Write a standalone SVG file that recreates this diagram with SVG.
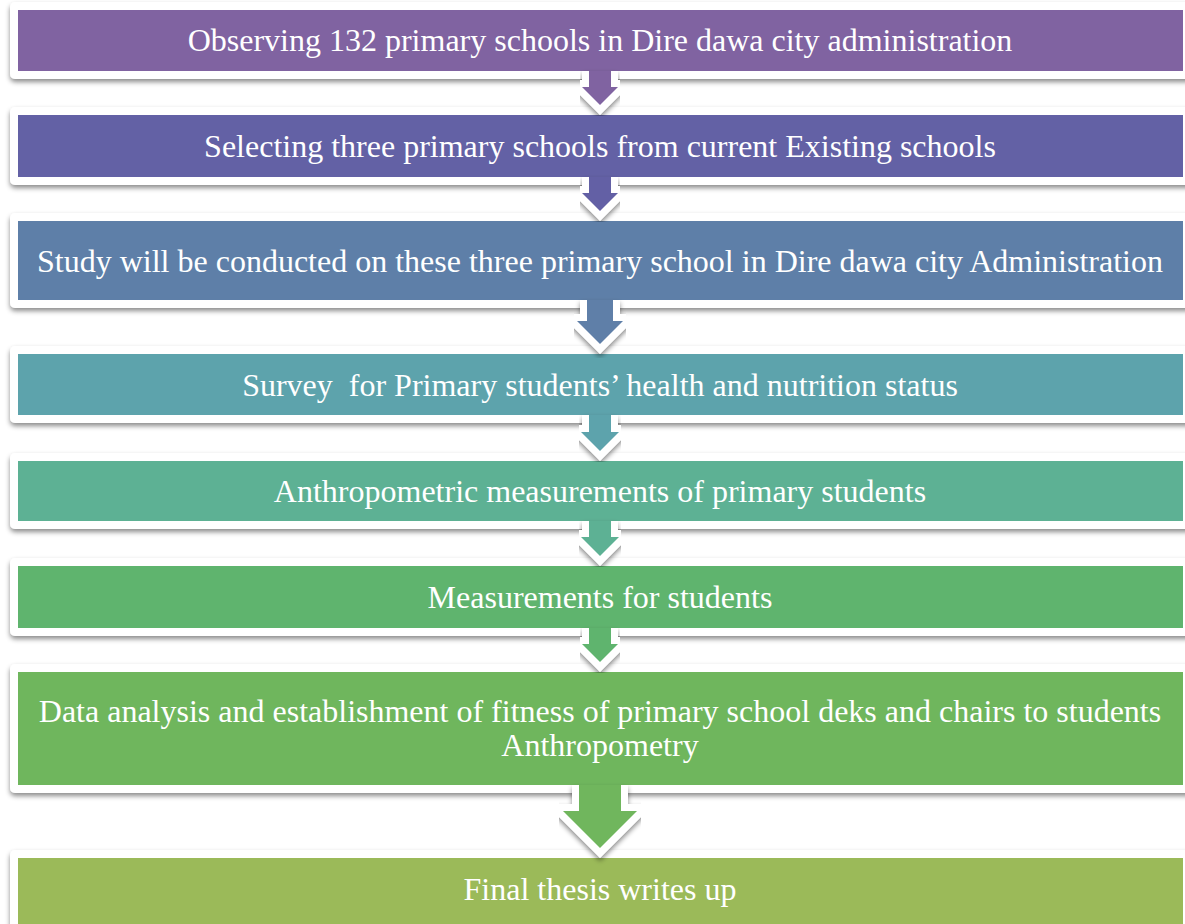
<svg xmlns="http://www.w3.org/2000/svg" width="1185" height="924" viewBox="0 0 1185 924">
  <defs>
    <filter id="shadow" x="-5%" y="-20%" width="110%" height="150%">
      <feDropShadow dx="0" dy="3" stdDeviation="2.5" flood-color="#000" flood-opacity="0.45"/>
    </filter>
    <style>
      .frame { fill: #ffffff; filter: url(#shadow); }
      .label { font-family: "Liberation Serif", "Times New Roman", serif; font-size: 32px; fill: #ffffff; text-anchor: middle; white-space: pre; }
      .arrow { stroke: #ffffff; stroke-width: 14; stroke-linejoin: miter; stroke-miterlimit: 4; paint-order: stroke; filter: url(#shadow); }
    </style>
  </defs>
  <rect width="1185" height="924" fill="#ffffff"/>

  <!-- process steps: white framed bands with a coloured panel -->
  <g id="step1">
    <rect class="frame" x="10" y="2" width="1190" height="77" rx="5"/>
    <rect x="18" y="10" width="1165" height="61" fill="#8063a1"/>
    <text class="label" x="600" y="51">Observing 132 primary schools in Dire dawa city administration</text>
  </g>
  <g id="step2">
    <rect class="frame" x="10" y="107" width="1190" height="78" rx="5"/>
    <rect x="18" y="115" width="1165" height="62" fill="#6361a5"/>
    <text class="label" x="600" y="157">Selecting three primary schools from current Existing schools</text>
  </g>
  <g id="step3">
    <rect class="frame" x="10" y="213" width="1190" height="95" rx="5"/>
    <rect x="18" y="221" width="1165" height="79" fill="#5e7fa8"/>
    <text class="label" x="600" y="272">Study will be conducted on these three primary school in Dire dawa city Administration</text>
  </g>
  <g id="step4">
    <rect class="frame" x="10" y="346" width="1190" height="77" rx="5"/>
    <rect x="18" y="354" width="1165" height="61" fill="#5da3ac"/>
    <text class="label" x="600" y="396">Survey  for Primary students’ health and nutrition status</text>
  </g>
  <g id="step5">
    <rect class="frame" x="10" y="453" width="1190" height="76" rx="5"/>
    <rect x="18" y="461" width="1165" height="60" fill="#5db194"/>
    <text class="label" x="600" y="502">Anthropometric measurements of primary students</text>
  </g>
  <g id="step6">
    <rect class="frame" x="10" y="558" width="1190" height="78" rx="5"/>
    <rect x="18" y="566" width="1165" height="62" fill="#5fb46e"/>
    <text class="label" x="600" y="608">Measurements for students</text>
  </g>
  <g id="step7">
    <rect class="frame" x="10" y="664" width="1190" height="129" rx="5"/>
    <rect x="18" y="672" width="1165" height="113" fill="#6fb65d"/>
    <text class="label" x="600" y="722">Data analysis and establishment of fitness of primary school deks and chairs to students</text>
    <text class="label" x="600" y="756">Anthropometry</text>
  </g>
  <g id="step8">
    <rect class="frame" x="10" y="850" width="1190" height="80" rx="5"/>
    <rect x="18" y="858" width="1165" height="70" fill="#9bba59"/>
    <text class="label" x="600" y="900">Final thesis writes up</text>
  </g>

  <!-- down arrows linking consecutive steps -->
  <g id="connectors">
    <path class="arrow" fill="#8063a1" d="M589 71 V87 H582 L600 105 L618 87 H611 V71"/>
    <path class="arrow" fill="#6361a5" d="M589 177 V193 H582 L600 211 L618 193 H611 V177"/>
    <path class="arrow" fill="#5e7fa8" d="M587 300 V321 H577 L600 344 L623 321 H613 V300"/>
    <path class="arrow" fill="#5da3ac" d="M589 415 V432 H581 L600 451 L619 432 H611 V415"/>
    <path class="arrow" fill="#5db194" d="M589 521 V537 H581 L600 556 L619 537 H611 V521"/>
    <path class="arrow" fill="#5fb46e" d="M589 628 V644 H582 L600 662 L618 644 H611 V628"/>
    <path class="arrow" fill="#6fb65d" d="M579 785 V811 H563 L600 848 L637 811 H621 V785"/>
  </g>
</svg>
